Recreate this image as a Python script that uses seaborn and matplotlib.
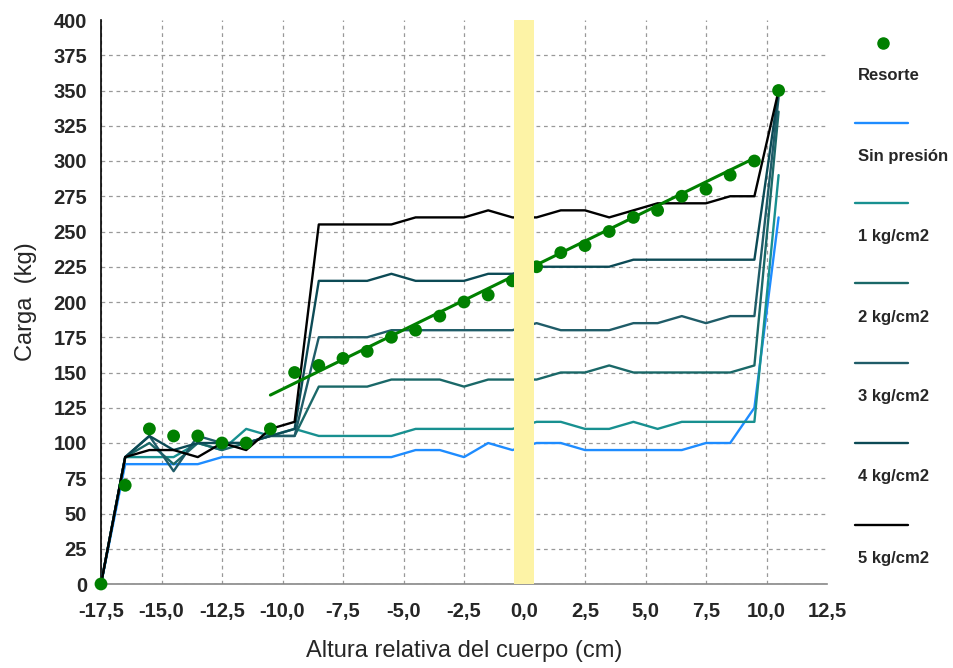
import matplotlib
matplotlib.use("Agg")
import matplotlib.pyplot as plt
from matplotlib.lines import Line2D
from matplotlib.ticker import MultipleLocator, FuncFormatter
import seaborn as sns
import pandas as pd

# ---------------- data ----------------
alturas = [-17.5, -16.5, -15.5, -14.5, -13.5, -12.5, -11.5, -10.5, -9.5, -8.5,
           -7.5, -6.5, -5.5, -4.5, -3.5, -2.5, -1.5, -0.5, 0.5, 1.5,
           2.5, 3.5, 4.5, 5.5, 6.5, 7.5, 8.5, 9.5, 10.5]

resorte = [0, 70, 110, 105, 105, 100, 100, 110, 150, 155,
           160, 165, 175, 180, 190, 200, 205, 215, 225, 235,
           240, 250, 260, 265, 275, 280, 290, 300, 350]

sin_presion = [0, 85, 85, 85, 85, 90, 90, 90, 90, 90,
               90, 90, 90, 95, 95, 90, 100, 95, 100, 100,
               95, 95, 95, 95, 95, 100, 100, 125, 260]

kg1 = [0, 90, 90, 90, 100, 95, 110, 105, 110, 105,
       105, 105, 105, 110, 110, 110, 110, 110, 115, 115,
       110, 110, 115, 110, 115, 115, 115, 115, 290]

kg2 = [0, 90, 100, 85, 100, 95, 100, 105, 105, 140,
       140, 140, 145, 145, 145, 140, 145, 145, 145, 150,
       150, 155, 150, 150, 150, 150, 150, 155, 335]

kg3 = [0, 90, 105, 80, 105, 100, 100, 105, 105, 175,
       175, 175, 180, 180, 180, 180, 180, 180, 185, 180,
       180, 180, 185, 185, 190, 185, 190, 190, 345]

kg4 = [0, 90, 105, 95, 100, 100, 100, 105, 110, 215,
       215, 215, 220, 215, 215, 215, 220, 220, 225, 225,
       225, 225, 230, 230, 230, 230, 230, 230, 350]

kg5 = [0, 90, 95, 95, 90, 100, 95, 110, 115, 255,
       255, 255, 255, 260, 260, 260, 265, 260, 260, 265,
       265, 260, 265, 270, 270, 270, 275, 275, 350]

# trend line of the spring (end points)
tendencia_x = [-10.5, 9.5]
tendencia_y = [134, 302]

series_names = ["Sin presión", "1 kg/cm2", "2 kg/cm2", "3 kg/cm2", "4 kg/cm2", "5 kg/cm2"]
series_vals = [sin_presion, kg1, kg2, kg3, kg4, kg5]
colors = ["#1e8cff", "#189090", "#1a6868", "#1f5c68", "#0c4a55", "#000000"]

# ---------------- figure ----------------
sns.set_style("white")
plt.rcParams["font.family"] = ["Liberation Sans", "DejaVu Sans"]

fig = plt.figure(figsize=(9.54, 6.68), dpi=100)
ax = fig.add_axes([101 / 954, 1 - 584 / 668, (827 - 101) / 954, (584 - 20) / 668])

rows = []
for name, vals in zip(series_names, series_vals):
    for x, y in zip(alturas, vals):
        rows.append({"altura": x, "carga": y, "serie": name})
df = pd.DataFrame(rows)

sns.lineplot(data=df, x="altura", y="carga", hue="serie", hue_order=series_names,
             palette=dict(zip(series_names, colors)), sort=False, estimator=None,
             linewidth=1.7, legend=False, ax=ax, zorder=3)

sns.lineplot(x=tendencia_x, y=tendencia_y, color="#008000", linewidth=2.2, ax=ax, zorder=4)
sns.scatterplot(x=alturas, y=resorte, color="#008000", s=85, edgecolor="none",
                ax=ax, zorder=5)
for coll in ax.collections:
    coll.set_clip_on(False)

# yellow band at 0
ax.axvspan(-0.42, 0.38, color="#fdf3a6", zorder=6, lw=0)

ax.set_xlim(-17.5, 12.5)
ax.set_ylim(0, 400)
ax.xaxis.set_major_locator(MultipleLocator(2.5))
ax.xaxis.set_minor_locator(MultipleLocator(0.5))
ax.yaxis.set_major_locator(MultipleLocator(25))
ax.yaxis.set_minor_locator(MultipleLocator(5))
ax.xaxis.set_major_formatter(FuncFormatter(lambda v, p: f"{v:.1f}".replace(".", ",")))
ax.yaxis.set_major_formatter(FuncFormatter(lambda v, p: f"{int(round(v))}"))

ax.grid(True, which="major", linestyle=(0, (3, 3)), color="#999999", linewidth=0.9)
for s in ["top", "right"]:
    ax.spines[s].set_visible(False)
ax.spines["left"].set_color("#000000")
ax.spines["bottom"].set_color("#888888")
ax.spines["left"].set_linewidth(1.2)
ax.spines["bottom"].set_linewidth(1.2)

ax.tick_params(axis="both", which="major", direction="out", length=7, color="#888888",
               width=1, labelsize=14.5)
ax.tick_params(axis="y", which="major", pad=3)
ax.tick_params(axis="x", which="major", pad=6)
ax.tick_params(axis="both", which="minor", direction="out", length=5, color="#888888", width=1)
for lab in ax.get_xticklabels() + ax.get_yticklabels():
    lab.set_fontweight("bold")

ax.set_xlabel("Altura relativa del cuerpo (cm)", fontsize=17)
ax.set_ylabel("Carga  (kg)", fontsize=17)
ax.xaxis.set_label_coords(0.5, (584 - 651) / 564, transform=ax.transAxes)
ax.yaxis.set_label_coords((26 - 101) / 726, 0.5, transform=ax.transAxes)
ax.xaxis.label.set_va("center")
ax.yaxis.label.set_va("center")

fig.canvas.draw()
# hide grid lines lying on the outer edges (x = 12.5, y = 400)
for gl, loc in zip(ax.get_xgridlines(), ax.get_xticks()):
    if loc >= 12.4:
        gl.set_visible(False)
for gl, loc in zip(ax.get_ygridlines(), ax.get_yticks()):
    if loc >= 399:
        gl.set_visible(False)

# ---------------- legend (drawn at the right) ----------------
W, H = 954, 668
def fx(px):
    return px / W
def fy(py):
    return 1 - py / H

fig.add_artist(Line2D([fx(883)], [fy(43)], marker="o", color="#008000",
                      markersize=8, linestyle="none", transform=fig.transFigure))
fig.text(fx(858), fy(75), "Resorte", fontsize=12, fontweight="bold", va="center", ha="left")
leg_y = [123, 203, 283, 363, 443, 525]
for name, col, y in zip(series_names, colors, leg_y):
    fig.add_artist(Line2D([fx(855), fx(908)], [fy(y), fy(y)], color=col, linewidth=1.7,
                          transform=fig.transFigure))
    fig.text(fx(858), fy(y + 34), name, fontsize=12, fontweight="bold", va="center", ha="left")

fig.savefig("out.png", dpi=100)
